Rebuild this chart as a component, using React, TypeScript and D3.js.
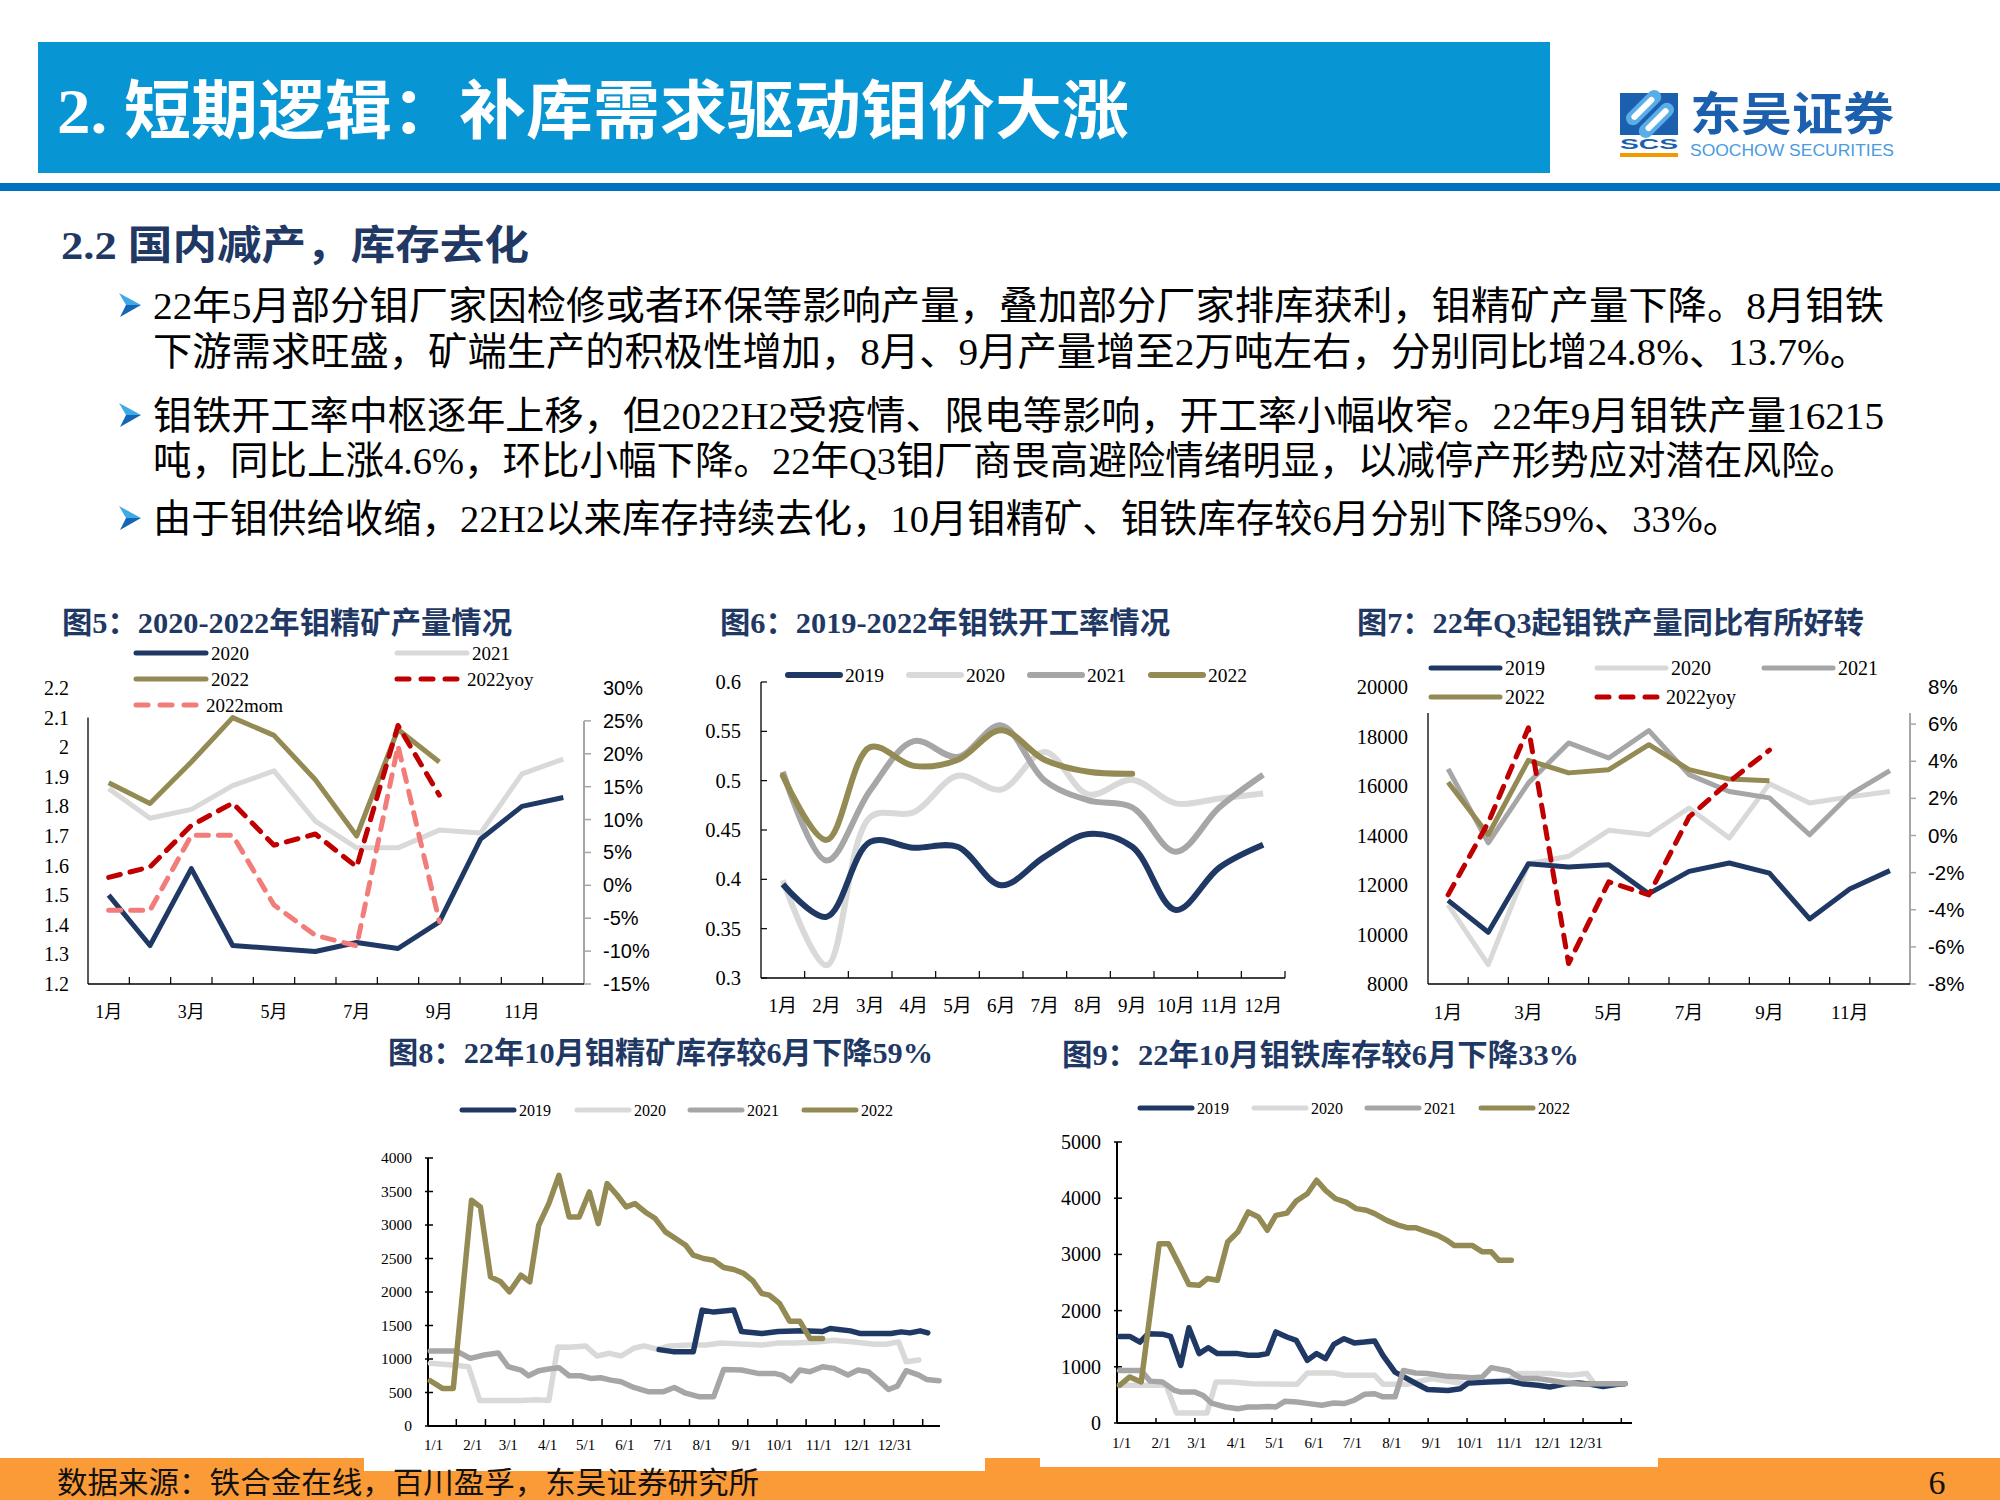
import React from 'react';
import * as d3 from 'd3';

const NAVY = '#1f3864';
const OLIVE = '#948a54';
const LIGHT = '#d9d9d9';
const GRAY = '#a6a6a6';
const DRED = '#c00000';
const LRED = '#f27c7a';
const TITLE_C = '#1f3864';
const SERIF = "'Liberation Serif','Times New Roman','Noto Sans CJK SC',serif";
const SANS = "'Liberation Sans',Arial,'Noto Sans CJK SC',sans-serif";

// ---------- slide texts ----------
const headerTitle = '2. 短期逻辑：补库需求驱动钼价大涨';
const sectionTitle = '2.2 国内减产，库存去化';
const bulletLines = [
  '22年5月部分钼厂家因检修或者环保等影响产量，叠加部分厂家排库获利，钼精矿产量下降。8月钼铁',
  '下游需求旺盛，矿端生产的积极性增加，8月、9月产量增至2万吨左右，分别同比增24.8%、13.7%。',
  '钼铁开工率中枢逐年上移，但2022H2受疫情、限电等影响，开工率小幅收窄。22年9月钼铁产量16215',
  '吨，同比上涨4.6%，环比小幅下降。22年Q3钼厂商畏高避险情绪明显，以减停产形势应对潜在风险。',
  '由于钼供给收缩，22H2以来库存持续去化，10月钼精矿、钼铁库存较6月分别下降59%、33%。',
];
const bulletHasArrow = [true, false, true, false, true];
const sourceText = '数据来源：铁合金在线，百川盈孚，东吴证券研究所';
const pageNo = '6';

// ---------- shared categories ----------
const months = ['1月', '2月', '3月', '4月', '5月', '6月', '7月', '8月', '9月', '10月', '11月', '12月'];
const dateLabels = ['1/1', '2/1', '3/1', '4/1', '5/1', '6/1', '7/1', '8/1', '9/1', '10/1', '11/1', '12/1', '12/31'];
const dateLabelDays = [0, 31, 59, 90, 120, 151, 181, 212, 243, 273, 304, 334, 364];

// ---------- Fig 5 ----------
const fig5Title = '图5：2020-2022年钼精矿产量情况';
const f5Y2020 = [1.5, 1.33, 1.59, 1.33, 1.32, 1.31, 1.34, 1.32, 1.41, 1.69, 1.8, 1.83];
const f5Y2021 = [1.86, 1.76, 1.79, 1.87, 1.92, 1.75, 1.66, 1.66, 1.72, 1.71, 1.91, 1.96];
const f5Y2022 = [1.88, 1.81, 1.95, 2.1, 2.04, 1.89, 1.7, 2.06, 1.95];
const f5Yoy = [1.2, 2.8, 9.1, 12.5, 6.1, 7.8, 2.8, 24.3, 13.7];
const f5Mom = [-3.8, -3.8, 7.6, 7.6, -3.0, -7.6, -9.2, 21.2, -5.5];
const f5LeftTicks = [1.2, 1.3, 1.4, 1.5, 1.6, 1.7, 1.8, 1.9, 2.0, 2.1, 2.2];
const f5RightTicks = [-15, -10, -5, 0, 5, 10, 15, 20, 25, 30];

// ---------- Fig 6 ----------
const fig6Title = '图6：2019-2022年钼铁开工率情况';
const f6Y2019 = [0.395, 0.362, 0.438, 0.432, 0.433, 0.394, 0.423, 0.446, 0.433, 0.369, 0.412, 0.435];
const f6Y2020 = [0.399, 0.313, 0.463, 0.468, 0.505, 0.491, 0.529, 0.486, 0.501, 0.477, 0.482, 0.487];
const f6Y2021 = [0.509, 0.419, 0.49, 0.54, 0.524, 0.556, 0.5, 0.48, 0.473, 0.428, 0.473, 0.506];
const f6Y2022 = [0.505, 0.44, 0.534, 0.515, 0.521, 0.551, 0.521, 0.509, 0.507];
const f6Ticks = [0.3, 0.35, 0.4, 0.45, 0.5, 0.55, 0.6];

// ---------- Fig 7 ----------
const fig7Title = '图7：22年Q3起钼铁产量同比有所好转';
const f7Y2019 = [11380, 10090, 12860, 12730, 12820, 11650, 12550, 12890, 12480, 10630, 11840, 12580];
const f7Y2020 = [11200, 8780, 12860, 13160, 14210, 14030, 15110, 13900, 16090, 15310, 15560, 15780];
const f7Y2021 = [16690, 13700, 16120, 17740, 17130, 18240, 16460, 15780, 15520, 14030, 15650, 16620];
const f7Y2022 = [16150, 14030, 17040, 16530, 16660, 17670, 16660, 16280, 16215];
const f7Yoy = [-3.2, 0.7, 5.8, -6.9, -2.5, -3.2, 1.0, 2.9, 4.6];
const f7LeftTicks = [8000, 10000, 12000, 14000, 16000, 18000, 20000];
const f7RightTicks = [-8, -6, -4, -2, 0, 2, 4, 6, 8];

// ---------- Fig 8 (day of year, tons) ----------
const fig8Title = '图8：22年10月钼精矿库存较6月下降59%';
const f8Y2019: [number, number][] = [[178, 1140], [189, 1110], [205, 1110], [212, 1730], [221, 1700], [237, 1730], [243, 1410], [259, 1380], [272, 1410], [291, 1420], [307, 1410], [313, 1455], [329, 1420], [337, 1380], [361, 1380], [369, 1405], [376, 1390], [384, 1420], [390, 1390]];
const f8Y2020: [number, number][] = [[-2.5, 935], [15, 910], [27.6, 885], [36.5, 380], [47, 380], [69, 380], [81.5, 390], [91, 380], [98, 1180], [107, 1175], [120, 1195], [129, 1045], [139, 1085], [148, 1045], [158, 1160], [166, 1195], [177, 1145], [186, 1195], [202, 1210], [215, 1210], [227, 1240], [246, 1220], [259, 1210], [272, 1240], [284, 1240], [303, 1255], [316, 1280], [332, 1255], [348, 1220], [357, 1220], [367, 1255], [373, 960], [383, 985]];
const f8Y2021: [number, number][] = [[-2.5, 1120], [18, 1120], [29, 1010], [40, 1060], [51, 1090], [59, 885], [69, 835], [75, 750], [83, 825], [91, 850], [99, 870], [107, 750], [116, 750], [124, 710], [132, 720], [140, 685], [148, 660], [158, 575], [170, 510], [181, 510], [190, 575], [199, 490], [210, 435], [221, 435], [229, 845], [243, 835], [256, 785], [269, 785], [275, 760], [282, 675], [289, 835], [297, 810], [307, 885], [316, 860], [327, 760], [335, 835], [343, 810], [351, 685], [359, 545], [366, 595], [373, 825], [383, 760], [389, 695], [399, 675]];
const f8Y2022: [number, number][] = [[-2.5, 676], [7, 561], [15.6, 561], [30, 3369], [37, 3270], [45, 2226], [53, 2152], [60, 2003], [69, 2251], [76, 2152], [83, 2996], [91, 3319], [99, 3742], [107, 3121], [115, 3121], [123, 3493], [130, 3021], [137, 3617], [145, 3444], [152, 3270], [159, 3319], [167, 3195], [175, 3096], [183, 2897], [191, 2798], [199, 2698], [205, 2549], [213, 2500], [221, 2475], [229, 2365], [237, 2335], [245, 2276], [252, 2167], [259, 1978], [265, 1953], [273, 1829], [281, 1565], [289, 1565], [297, 1307], [307, 1307]];
const f8Ticks = [0, 500, 1000, 1500, 2000, 2500, 3000, 3500, 4000];
const f8TickDays = [18, 41, 64, 87, 110, 133, 156, 179, 202, 225, 248, 271, 294, 317, 340, 363, 386];

// ---------- Fig 9 ----------
const fig9Title = '图9：22年10月钼铁库存较6月下降33%';
const f9Y2019: [number, number][] = [[-1.6, 1540], [6.4, 1540], [14.4, 1440], [20.8, 1590], [32, 1580], [38.4, 1540], [46.4, 1025], [52.8, 1695], [60.8, 1235], [67.9, 1340], [75.2, 1235], [91.2, 1235], [99.3, 1205], [107.3, 1205], [114.3, 1235], [121, 1620], [129.7, 1530], [137, 1470], [145.7, 1115], [153, 1235], [160, 1145], [166.5, 1400], [174.5, 1500], [182.5, 1425], [190.5, 1440], [198.5, 1460], [205, 1205], [214.5, 905], [224, 790], [232, 690], [240, 595], [256, 580], [265.7, 610], [272, 710], [288, 730], [304, 745], [313.7, 700], [326.5, 670], [336, 640], [349, 700], [358.5, 710], [368, 690], [377.7, 650], [389, 690], [395, 700]];
const f9Y2020: [number, number][] = [[-1.6, 670], [15.3, 670], [35, 670], [43, 180], [67, 180], [74, 730], [86.4, 730], [102.5, 700], [137.7, 690], [145.7, 890], [166.5, 890], [174.5, 850], [198.5, 850], [205, 690], [224, 690], [243, 790], [269, 700], [288, 745], [304, 760], [310.5, 880], [336, 880], [352, 850], [365, 880], [371, 690], [377.7, 670]];
const f9Y2021: [number, number][] = [[-1.6, 935], [15.3, 935], [22.4, 745], [32, 730], [41.6, 580], [46.4, 550], [57.6, 550], [64, 490], [70.4, 355], [81.6, 285], [91.2, 255], [99.3, 285], [107.3, 285], [115, 295], [121, 285], [128, 385], [137.7, 375], [147, 345], [157, 315], [166.5, 355], [174.5, 345], [182.5, 405], [190.5, 510], [198.5, 520], [205, 465], [214.5, 465], [221, 935], [230.5, 890], [240, 880], [256, 830], [275, 805], [283, 820], [290, 985], [304, 925], [313.7, 790], [326.5, 790], [336, 760], [349, 710], [361.7, 690], [371, 700], [381, 700], [395, 700]];
const f9Y2022: [number, number][] = [[-1.6, 670], [6.4, 820], [15.4, 730], [29.5, 3190], [36.8, 3190], [44.8, 2835], [52.8, 2465], [60.8, 2450], [67.2, 2570], [75.2, 2540], [83.2, 3220], [91.2, 3400], [99.3, 3755], [107.3, 3665], [114.3, 3430], [121, 3695], [129.7, 3735], [137, 3950], [145.7, 4080], [153, 4320], [160, 4140], [168, 3990], [176, 3930], [184, 3815], [192, 3785], [198.5, 3725], [208, 3605], [217.7, 3515], [224, 3475], [230.5, 3475], [240, 3400], [248, 3340], [256, 3240], [261, 3160], [269, 3160], [275, 3160], [283, 3045], [290, 3045], [296, 2895], [305.7, 2895]];
const f9Ticks = [0, 1000, 2000, 3000, 4000, 5000];
const f9TickDays = [27, 57.5, 88, 118, 149, 180, 210, 240.5, 271, 301, 331.5, 362, 392];

const fmtNum = (v: number) => String(Math.round(v * 100) / 100);

function Legend({ x, y, w, color, label, fs, sw = 5, dash }: any) {
  return (
    <g>
      <line x1={x} x2={x + w} y1={y} y2={y} stroke={color} strokeWidth={sw} strokeLinecap="round" strokeDasharray={dash} />
      <text x={x + w + 5} y={y + fs * 0.35} fontSize={fs} fontFamily={SERIF} fill="#000">{label}</text>
    </g>
  );
}

function Title({ x, y, text, len }: any) {
  return (
    <text x={x} y={y} fontSize={30} fontWeight="bold" fontFamily={SERIF} fill={TITLE_C} textLength={len} lengthAdjust="spacingAndGlyphs">{text}</text>
  );
}

function Fig5() {
  const x = d3.scaleBand<number>().domain(d3.range(12)).range([88, 584]);
  const cx = (i: number) => (x(i) as number) + x.bandwidth() / 2;
  const yL = d3.scaleLinear().domain([1.2, 2.2]).range([984, 688]);
  const yR = d3.scaleLinear().domain([-15, 30]).range([984, 688]);
  const lL = d3.line<number>().x((_, i) => cx(i)).y(d => yL(d));
  const lR = d3.line<number>().x((_, i) => cx(i)).y(d => yR(d));
  return (
    <g>
      <Title x={62} y={633} text={fig5Title} len={450} />
      <Legend x={136} y={653} w={70} color={NAVY} label="2020" fs={19} />
      <Legend x={397} y={653} w={70} color={LIGHT} label="2021" fs={19} />
      <Legend x={136} y={679} w={70} color={OLIVE} label="2022" fs={19} />
      <Legend x={397} y={679} w={65} color={DRED} label="2022yoy" fs={19} dash="12 12" />
      <Legend x={136} y={705} w={65} color={LRED} label="2022mom" fs={19} dash="12 12" />
      {f5LeftTicks.map(v => (
        <text key={v} x={69} y={yL(v) + 7} textAnchor="end" fontSize={20} fontFamily={SERIF}>{fmtNum(v)}</text>
      ))}
      {f5RightTicks.map(v => (
        <text key={v} x={603} y={yR(v) + 7} fontSize={20} fontFamily={SANS}>{v}%</text>
      ))}
      {f5RightTicks.filter(v => v <= 25).map(v => (
        <line key={v} x1={584} x2={591} y1={yR(v)} y2={yR(v)} stroke={GRAY} strokeWidth={1.5} />
      ))}
      <line x1={88} x2={88} y1={yL(2.1)} y2={984} stroke="#000" strokeWidth={1.3} />
      <line x1={584} x2={584} y1={yR(25)} y2={984} stroke={GRAY} strokeWidth={2} />
      <line x1={88} x2={584} y1={984} y2={984} stroke="#000" strokeWidth={1.3} />
      {d3.range(1, 12).map(i => (
        <line key={i} x1={x(i)} x2={x(i)} y1={984} y2={977} stroke="#000" strokeWidth={1.2} />
      ))}
      {months.map((m, i) => i % 2 === 0 ? (
        <text key={m} x={cx(i)} y={1018} textAnchor="middle" fontSize={18} fontFamily={SERIF}>{m}</text>
      ) : null)}
      <path d={lL(f5Y2021) || ''} fill="none" stroke={LIGHT} strokeWidth={5} strokeLinejoin="round" />
      <path d={lL(f5Y2020) || ''} fill="none" stroke={NAVY} strokeWidth={5} strokeLinejoin="round" />
      <path d={lL(f5Y2022) || ''} fill="none" stroke={OLIVE} strokeWidth={5} strokeLinejoin="round" />
      <path d={lR(f5Mom) || ''} fill="none" stroke={LRED} strokeWidth={5} strokeDasharray="12 10" strokeLinecap="round" strokeLinejoin="round" />
      <path d={lR(f5Yoy) || ''} fill="none" stroke={DRED} strokeWidth={5} strokeDasharray="12 10" strokeLinecap="round" strokeLinejoin="round" />
    </g>
  );
}

function Fig6() {
  const x = d3.scaleBand<number>().domain(d3.range(12)).range([761, 1285]);
  const cx = (i: number) => (x(i) as number) + x.bandwidth() / 2;
  const y = d3.scaleLinear().domain([0.3, 0.6]).range([978, 682]);
  const l = d3.line<number>().x((_, i) => cx(i)).y(d => y(d)).curve(d3.curveCatmullRom.alpha(0.5));
  return (
    <g>
      <Title x={720} y={633} text={fig6Title} len={450} />
      <Legend x={788} y={675} w={52} color={NAVY} label="2019" fs={19.5} sw={6} />
      <Legend x={909} y={675} w={52} color={LIGHT} label="2020" fs={19.5} sw={6} />
      <Legend x={1030} y={675} w={52} color={GRAY} label="2021" fs={19.5} sw={6} />
      <Legend x={1151} y={675} w={52} color={OLIVE} label="2022" fs={19.5} sw={6} />
      {f6Ticks.map(v => (
        <g key={v}>
          <text x={741} y={y(v) + 7} textAnchor="end" fontSize={20.5} fontFamily={SERIF}>{fmtNum(v)}</text>
          <line x1={761} x2={767} y1={y(v)} y2={y(v)} stroke="#000" strokeWidth={1.2} />
        </g>
      ))}
      <line x1={761} x2={761} y1={682} y2={978} stroke="#000" strokeWidth={1.3} />
      <line x1={761} x2={1285} y1={978} y2={978} stroke="#000" strokeWidth={1.3} />
      {d3.range(1, 13).map(i => (
        <line key={i} x1={x(i) ?? 1285} x2={x(i) ?? 1285} y1={978} y2={971} stroke="#000" strokeWidth={1.2} />
      ))}
      {months.map((m, i) => (
        <text key={m} x={cx(i)} y={1012} textAnchor="middle" fontSize={19} fontFamily={SERIF}>{m}</text>
      ))}
      <path d={l(f6Y2020) || ''} fill="none" stroke={LIGHT} strokeWidth={6} />
      <path d={l(f6Y2021) || ''} fill="none" stroke={GRAY} strokeWidth={6} />
      <path d={l(f6Y2019) || ''} fill="none" stroke={NAVY} strokeWidth={6} />
      <path d={l(f6Y2022) || ''} fill="none" stroke={OLIVE} strokeWidth={6} strokeLinecap="round" />
    </g>
  );
}

function Fig7() {
  const x = d3.scaleBand<number>().domain(d3.range(12)).range([1428, 1910]);
  const cx = (i: number) => (x(i) as number) + x.bandwidth() / 2;
  const yL = d3.scaleLinear().domain([8000, 20000]).range([984, 687]);
  const yR = d3.scaleLinear().domain([-8, 8]).range([984, 687]);
  const lL = d3.line<number>().x((_, i) => cx(i)).y(d => yL(d));
  const lR = d3.line<number>().x((_, i) => cx(i)).y(d => yR(d));
  return (
    <g>
      <Title x={1357} y={633} text={fig7Title} len={507} />
      <Legend x={1431} y={668} w={69} color={NAVY} label="2019" fs={20} />
      <Legend x={1597} y={668} w={69} color={LIGHT} label="2020" fs={20} />
      <Legend x={1764} y={668} w={69} color={GRAY} label="2021" fs={20} />
      <Legend x={1431} y={697} w={69} color={OLIVE} label="2022" fs={20} />
      <Legend x={1597} y={697} w={64} color={DRED} label="2022yoy" fs={20} dash="12 12" />
      {f7LeftTicks.map(v => (
        <text key={v} x={1408} y={yL(v) + 7} textAnchor="end" fontSize={20.5} fontFamily={SERIF}>{v}</text>
      ))}
      {f7RightTicks.map(v => (
        <text key={v} x={1928} y={yR(v) + 7} fontSize={20.5} fontFamily={SANS}>{v}%</text>
      ))}
      {f7RightTicks.filter(v => v <= 6).map(v => (
        <line key={v} x1={1910} x2={1916} y1={yR(v)} y2={yR(v)} stroke={GRAY} strokeWidth={1.5} />
      ))}
      <line x1={1428} x2={1428} y1={713} y2={984} stroke="#000" strokeWidth={1.3} />
      <line x1={1910} x2={1910} y1={713} y2={984} stroke={GRAY} strokeWidth={2} />
      <line x1={1428} x2={1910} y1={984} y2={984} stroke="#000" strokeWidth={1.3} />
      {d3.range(1, 12).map(i => (
        <line key={i} x1={x(i)} x2={x(i)} y1={984} y2={977} stroke="#000" strokeWidth={1.2} />
      ))}
      {months.map((m, i) => i % 2 === 0 ? (
        <text key={m} x={cx(i)} y={1019} textAnchor="middle" fontSize={19} fontFamily={SERIF}>{m}</text>
      ) : null)}
      <path d={lL(f7Y2020) || ''} fill="none" stroke={LIGHT} strokeWidth={5} strokeLinejoin="round" />
      <path d={lL(f7Y2021) || ''} fill="none" stroke={GRAY} strokeWidth={5} strokeLinejoin="round" />
      <path d={lL(f7Y2019) || ''} fill="none" stroke={NAVY} strokeWidth={5} strokeLinejoin="round" />
      <path d={lL(f7Y2022) || ''} fill="none" stroke={OLIVE} strokeWidth={5} strokeLinejoin="round" />
      <path d={lR(f7Yoy) || ''} fill="none" stroke={DRED} strokeWidth={5} strokeDasharray="12 10" strokeLinecap="round" strokeLinejoin="round" />
    </g>
  );
}

function InvChart({ title, titleX, titleY, titleLen, x0, x1, yTop, yBot, yMax, ticks, tickDays, legendX, legendY, labelX, labelY, yfs, series, order, tickUp }: any) {
  const perDay = (x1 - x0) / 404;
  const x = d3.scaleLinear().domain([0, 364]).range([labelX, labelX + 364 * perDay]);
  const y = d3.scaleLinear().domain([0, yMax]).range([yBot, yTop]);
  const l = d3.line<[number, number]>().x(d => x(d[0])).y(d => y(d[1])).curve(d3.curveLinear);
  const legend = [['2019', NAVY], ['2020', LIGHT], ['2021', GRAY], ['2022', OLIVE]];
  return (
    <g>
      <Title x={titleX} y={titleY} text={title} len={titleLen} />
      {legend.map(([lab, col], i) => (
        <Legend key={lab} x={legendX[i]} y={legendY} w={52} color={col} label={lab} fs={16} sw={5} />
      ))}
      {ticks.map((v: number) => (
        <g key={v}>
          <text x={x0 - 16} y={y(v) + yfs * 0.35} textAnchor="end" fontSize={yfs} fontFamily={SERIF}>{v}</text>
          <line x1={x0 - 3} x2={x0 + 5} y1={y(v)} y2={y(v)} stroke="#000" strokeWidth={1.5} />
        </g>
      ))}
      <line x1={x0} x2={x0} y1={yTop} y2={yBot} stroke="#000" strokeWidth={2} />
      <line x1={x0} x2={x1} y1={yBot} y2={yBot} stroke="#000" strokeWidth={2} />
      {tickDays.map((d: number) => (
        <line key={d} x1={x(d)} x2={x(d)} y1={yBot} y2={yBot - tickUp} stroke="#000" strokeWidth={1.5} />
      ))}
      {dateLabels.map((lab, i) => (
        <text key={lab} x={x(dateLabelDays[i])} y={labelY} textAnchor="middle" fontSize={15} fontFamily={SERIF}>{lab}</text>
      ))}
      {order.map((k: number) => (
        <path key={k} d={l(series[k].data) || ''} fill="none" stroke={series[k].color} strokeWidth={5.5} strokeLinejoin="round" strokeLinecap="round" />
      ))}
    </g>
  );
}

function Arrow({ x, y }: any) {
  return (
    <g>
      <path d={`M${x},${y - 12} L${x + 22},${y} L${x + 7},${y} Z`} fill="#3fa9e6" />
      <path d={`M${x + 7},${y} L${x + 22},${y} L${x + 1},${y + 12} Z`} fill="#1565b5" />
    </g>
  );
}

function Logo() {
  return (
    <g>
      <path d="M1620,93 L1652,93 L1620,125 Z" fill="#1b5fae" />
      <rect x={1620} y={93} width={58} height={42} fill="#1b5fae" />
      <g transform="rotate(-45 1650 114)">
        <rect x={1628} y={98} width={44} height={14} rx={7} fill="#5aaee8" />
        <rect x={1628} y={116} width={44} height={14} rx={7} fill="#5aaee8" />
        <rect x={1634} y={102} width={30} height={6} rx={3} fill="#fff" />
        <rect x={1636} y={120} width={30} height={6} rx={3} fill="#fff" />
      </g>
      <text x={1620} y={149} fontSize={14} fontWeight="bold" fill="#1b5fae" fontFamily={SANS} textLength={58} lengthAdjust="spacingAndGlyphs">SCS</text>
      <rect x={1620} y={153} width={58} height={4} fill="#f39800" />
      <text x={1690} y={130} fontSize={46} fontWeight="bold" fill="#1b5fae" fontFamily="'Noto Sans CJK SC',sans-serif" textLength={204} lengthAdjust="spacingAndGlyphs">东吴证券</text>
      <text x={1690} y={156} fontSize={16} fill="#4a9be0" fontFamily={SANS} textLength={204} lengthAdjust="spacingAndGlyphs">SOOCHOW SECURITIES</text>
    </g>
  );
}

export default function App() {
  const bulletBase = [319, 365, 429, 474, 532];
  const bulletLen = [1731, 1716, 1731, 1705, 1588];
  return (
    <div style={{ position: 'absolute', left: 0, top: 0, width: 2000, height: 1500, overflow: 'hidden', background: '#fff' }}>
      <svg width={2000} height={1500} style={{ display: 'block' }}>
        <rect x={0} y={0} width={2000} height={1500} fill="#fff" />
        {/* header */}
        <rect x={38} y={42} width={1512} height={131} fill="#0895d3" />
        <text x={57} y={133} fontSize={64} fontWeight="bold" fill="#fff" fontFamily={SERIF} textLength={1072} lengthAdjust="spacingAndGlyphs">{headerTitle}</text>
        <rect x={0} y={183} width={2000} height={8} fill="#0070c0" />
        <Logo />
        {/* section title */}
        <text x={61} y={259} fontSize={40} fontWeight="bold" fill={TITLE_C} fontFamily={SERIF} textLength={468} lengthAdjust="spacingAndGlyphs">{sectionTitle}</text>
        {bulletLines.map((t, i) => (
          <g key={i}>
            {bulletHasArrow[i] ? <Arrow x={119} y={bulletBase[i] - 14} /> : null}
            <text x={153} y={bulletBase[i]} fontSize={38.5} fill="#000" fontFamily={SERIF} textLength={bulletLen[i]} lengthAdjust="spacingAndGlyphs">{t}</text>
          </g>
        ))}
        <Fig5 />
        <Fig6 />
        <Fig7 />
        {/* footer */}
        <rect x={0} y={1458} width={2000} height={42} fill="#fb9b37" />
        <rect x={364} y={1035} width={621} height={436} fill="#fff" />
        <rect x={1040} y={1035} width={618} height={432} fill="#fff" />
        <InvChart
          title={fig8Title} titleX={388} titleY={1063} titleLen={545}
          x0={428} x1={940} yTop={1158} yBot={1426} yMax={4000}
          ticks={f8Ticks} tickDays={f8TickDays}
          legendX={[462, 577, 690, 804]} legendY={1110}
          labelX={433.5} labelY={1450} yfs={15.5}
          series={[{ data: f8Y2019, color: NAVY }, { data: f8Y2020, color: LIGHT }, { data: f8Y2021, color: GRAY }, { data: f8Y2022, color: OLIVE }]}
          order={[1, 2, 0, 3]} tickUp={7}
        />
        <InvChart
          title={fig9Title} titleX={1062} titleY={1065} titleLen={517}
          x0={1117} x1={1632} yTop={1142} yBot={1423} yMax={5000}
          ticks={f9Ticks} tickDays={f9TickDays}
          legendX={[1140, 1254, 1367, 1481]} legendY={1108}
          labelX={1121.6} labelY={1448} yfs={20}
          series={[{ data: f9Y2019, color: NAVY }, { data: f9Y2020, color: LIGHT }, { data: f9Y2021, color: GRAY }, { data: f9Y2022, color: OLIVE }]}
          order={[1, 0, 2, 3]} tickUp={5}
        />
        <text x={57} y={1493} fontSize={30} fill="#111" fontFamily={SERIF} textLength={702} lengthAdjust="spacingAndGlyphs">{sourceText}</text>
        <text x={1937} y={1494} fontSize={34} textAnchor="middle" fill="#111" fontFamily={SERIF}>{pageNo}</text>
      </svg>
    </div>
  );
}
